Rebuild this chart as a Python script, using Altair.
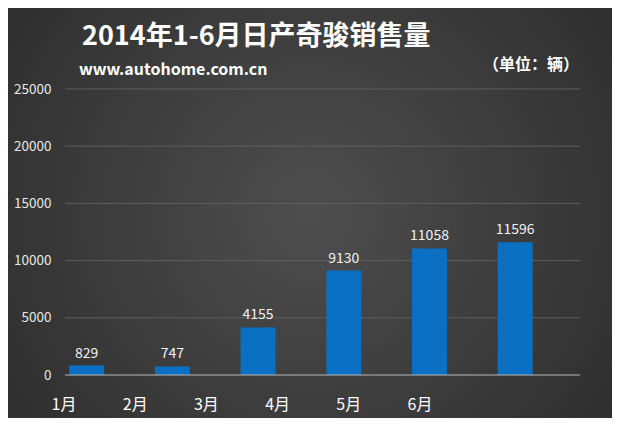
import altair as alt
import pandas as pd

months = ["1月", "2月", "3月", "4月", "5月", "6月"]
sales = [829, 747, 4155, 9130, 11058, 11596]
y_ticks = [0, 5000, 10000, 15000, 20000, 25000]
title_text = "2014年1-6月日产奇骏销售量"
subtitle_text = "www.autohome.com.cn"
unit_text = "（单位：辆）"

W, H = 515, 286
PAD = {"left": 57, "top": 81, "right": 32, "bottom": 43}
FONT = "Noto Sans CJK SC"

df = pd.DataFrame({"month": months, "sales": sales})

bar_x = alt.X("month:N", sort=months, axis=None,
              scale=alt.Scale(type="band", range=[-21.15, 493.05],
                              paddingInner=0.592, paddingOuter=0.296))
y_scale = alt.Scale(domain=[0, 25000], nice=False)
y_axis = alt.Axis(values=y_ticks, title=None, domain=False, ticks=False, grid=False,
                  format="d", labelColor="#e8e8e8", labelFont=FONT, labelFontSize=13.5,
                  labelPadding=14, zindex=1)
y_enc = alt.Y("sales:Q", scale=y_scale, axis=y_axis)

bg = alt.Chart(pd.DataFrame({"k": [0]})).mark_rect(
    color={"gradient": "radial", "x1": 0.5, "y1": 0.5, "r1": 0.0,
           "x2": 0.5, "y2": 0.5, "r2": 0.75,
           "stops": [{"offset": 0, "color": "#4e4e4e"},
                     {"offset": 1, "color": "#272727"}]}
).encode(x=alt.value(-PAD["left"]), x2=alt.value(W + PAD["right"]),
         y=alt.value(-PAD["top"]), y2=alt.value(H + PAD["bottom"]))

grid = alt.Chart(pd.DataFrame({"sales": y_ticks[1:]})).mark_rule(
    color="#5e5e5e", strokeWidth=1).encode(
    y=y_enc, x=alt.value(0), x2=alt.value(W))

bars = alt.Chart(df).mark_bar(color="#0a70c4").encode(x=bar_x, y=y_enc)

base_line = alt.Chart(pd.DataFrame({"sales": y_ticks[:1]})).mark_rule(
    color="#b8b8b8", strokeWidth=1).encode(
    y=y_enc, x=alt.value(0), x2=alt.value(W))

value_labels = alt.Chart(df).mark_text(
    color="#f2f2f2", font=FONT, fontSize=14, baseline="bottom", dy=-5
).encode(x=bar_x, y=y_enc, text=alt.Text("sales:Q", format="d"))

month_labels = alt.Chart(df).mark_text(
    color="#ffffff", font=FONT, fontSize=16, baseline="middle"
).encode(x=alt.X("month:N", sort=months, axis=None,
                 scale=alt.Scale(type="point", range=[-1, 355], padding=0)),
         y=alt.value(H + 30), text="month:N")

def txt(text, x, y, size, weight="bold", color="#ffffff", align="left"):
    return alt.Chart(pd.DataFrame({"t": [text]})).mark_text(
        color=color, font=FONT, fontSize=size, fontWeight=weight, align=align,
        baseline="middle"
    ).encode(x=alt.value(x), y=alt.value(y), text="t:N")

title = txt(title_text, 17, -52, 27)
subtitle = txt(subtitle_text, 14, -19, 16)
unit = txt(unit_text, 514, -24, 16, align="right")

chart = alt.layer(bg, grid, bars, base_line, value_labels, month_labels,
                  title, subtitle, unit).resolve_scale(
    x="independent").properties(
    width=W, height=H, padding=PAD,
    autosize=alt.AutoSizeParams(type="none"),
    background="#2e2e2e"
).configure_view(stroke=None)

chart.save("out.html", embed_options={"renderer": "svg", "actions": False})
